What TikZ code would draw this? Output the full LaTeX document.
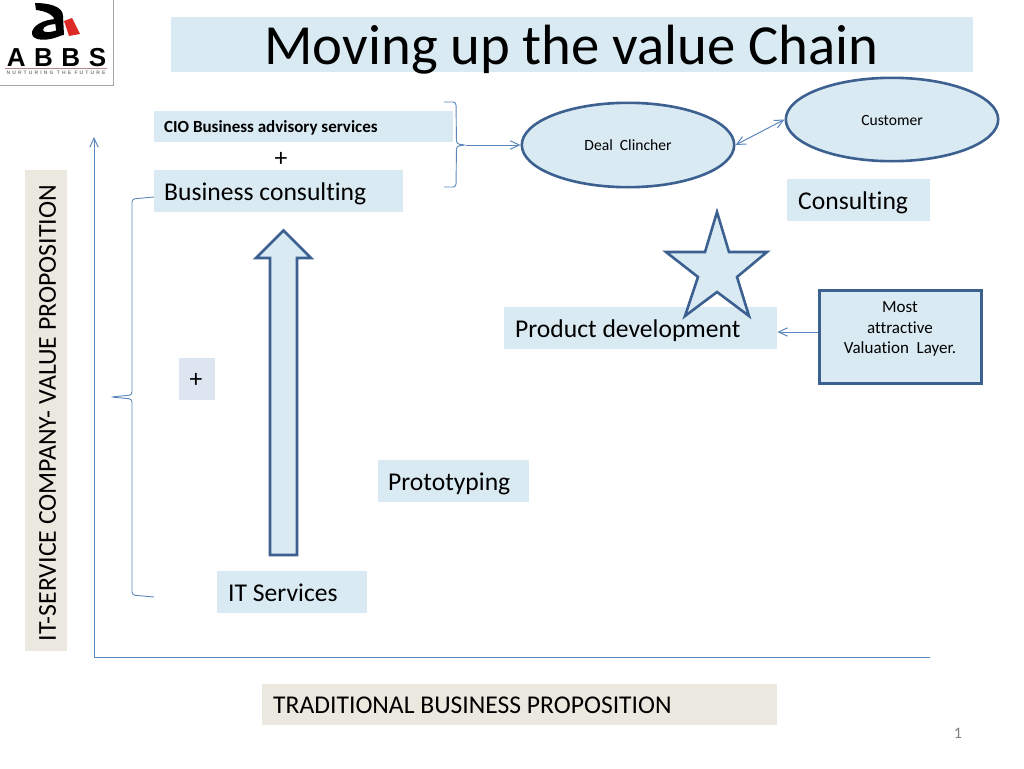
\documentclass[tikz,border=0pt]{standalone}
\usepackage{fontspec}
\setmainfont[Ligatures=NoCommon]{Carlito}
\newfontfamily\logofont{Liberation Sans}
\usetikzlibrary{shapes.geometric,arrows.meta}
\definecolor{lightblue}{HTML}{D9EAF3}
\definecolor{paleblue}{HTML}{DCE5F0}
\definecolor{beige}{HTML}{EBE9DF}
\definecolor{darkline}{HTML}{3C6090}
\definecolor{thinline}{HTML}{5B87BC}
\definecolor{logored}{HTML}{DD2A26}
\definecolor{logorule}{HTML}{B08A8A}
\tikzset{
  x=1pt,y=-1pt,
  biglabel/.style={inner sep=0pt,anchor=west,font=\fontsize{25.6}{30}\selectfont},
  plain box/.style={minimum height=42pt,inner sep=0pt,anchor=north west},
  oval/.style={ellipse,draw=darkline,line width=2.6pt,fill=lightblue,inner sep=0pt,font=\fontsize{15.6}{18}\selectfont},
  conn/.style={draw=thinline,line width=1pt},
  arr/.style={conn,-{Straight Barb[length=9pt,width=10pt,angle'=50]}},
  twoarr/.style={conn,{Straight Barb[length=9pt,width=10pt,angle'=50]}-{Straight Barb[length=9pt,width=10pt,angle'=50]}},
  brace/.style={draw=thinline,line width=0.9pt,rounded corners=3pt},
  thick shape/.style={draw=darkline,line width=2.6pt,fill=lightblue,line join=miter}
}
\begin{document}
\begin{tikzpicture}
\useasboundingbox (0,0) rectangle (1024,768);
\fill[white] (0,0) rectangle (1024,768);
% logo
\draw[gray!70,line width=0.6pt] (0,85.5) -- (113,85.5) -- (113,0);
\fill[black] (35,3) .. controls (48,3) and (63,6) .. (63,16) -- (64,35) -- (57,36) -- (55,22) .. controls (55,15) and (46,11) .. (36,10) -- cycle;
\fill[black] (58,19) .. controls (42,19) and (31,27) .. (32,34) .. controls (33,41) and (48,42) .. (62,35) -- (60,29) .. controls (51,33) and (43,33) .. (43,30) .. controls (43,26) and (50,24) .. (58,24) -- cycle;
\fill[logored] (64,21) -- (72,18) -- (80,34) -- (69,36) -- cycle;
\node[inner sep=0pt,font=\logofont\fontsize{26}{26}\bfseries\selectfont\addfontfeature{LetterSpace=33}] (logotext) at (56.5,57.5) {ABBS};
\fill[logorule] (5,68) rectangle (107,69.3);
\node[inner sep=0pt,text=gray,font=\logofont\fontsize{5}{6}\bfseries\selectfont\addfontfeature{LetterSpace=42}] (logotag) at (56,73) {NURTURING THE FUTURE};
% title
\node[fill=lightblue,minimum width=802pt,minimum height=55pt,inner sep=0pt,anchor=north west] (titlebox) at (171,17) {};
\node[inner sep=0pt,font=\fontsize{56.7}{64}\selectfont] (title) at (571.5,50) {Moving up the value Chain};
% boxes
\node[fill=lightblue,plain box,minimum width=299pt,minimum height=31pt] (cio) at (154,111) {};
\node[inner sep=0pt,anchor=west,font=\fontsize{17}{20}\bfseries\selectfont] (ciot) at (164,128) {CIO Business advisory services};
\node[inner sep=0pt,font=\fontsize{25.6}{26}\selectfont] (plusa) at (281,159) {+};
\node[fill=lightblue,plain box,minimum width=249pt] (bc) at (154,170) {};
\node[biglabel] (bct) at (164,193.5) {Business consulting};
\node[fill=lightblue,plain box,minimum width=143pt] (cons) at (787,179) {};
\node[biglabel] (const) at (798,202.5) {Consulting};
\node[fill=lightblue,plain box,minimum width=273pt] (pd) at (504,307) {};
\node[fill=paleblue,plain box,minimum width=36pt] (plusb) at (179,358) {};
\node[inner sep=0pt,font=\fontsize{25.6}{26}\selectfont] (plusbt) at (196,380) {+};
\node[fill=lightblue,plain box,minimum width=151pt] (proto) at (378,460) {};
\node[biglabel] (protot) at (388,484) {Prototyping};
\node[fill=lightblue,plain box,minimum width=150pt] (its) at (217,571) {};
\node[biglabel] (itst) at (228,593) {IT Services};
\node[fill=beige,plain box,minimum width=515pt,minimum height=41pt] (trad) at (262,684) {};
\node[biglabel] (tradt) at (273,705) {TRADITIONAL BUSINESS PROPOSITION};
\node[fill=beige,plain box,minimum width=42pt,minimum height=481pt] (ylab) at (25,170) {};
\node[inner sep=0pt,rotate=90,font=\fontsize{25.8}{30}\selectfont] (ylabt) at (47.5,413) {IT-SERVICE COMPANY- VALUE PROPOSITION};
% ovals
\node[oval,minimum width=212.4pt,minimum height=84.4pt] (deal) at (628,145) {Deal\ \ Clincher};
\node[oval,minimum width=212.4pt,minimum height=83.4pt] (cust) at (892,119.5) {};
\node[inner sep=0pt,font=\fontsize{15.6}{18}\selectfont] (custt) at (892,120) {Customer};
% star
\path[thick shape] (717,212) -- (729,252) -- (767,252) -- (737,277) -- (749,316) -- (717,292) -- (685,316) -- (698,277) -- (666,252) -- (705,252) -- cycle;
\node[biglabel] (pdt) at (515,330.5) {Product development};
% most attractive
\node[draw=darkline,line width=2.6pt,fill=lightblue,minimum width=162.4pt,minimum height=93.4pt,inner sep=0pt,anchor=north west] (most) at (818,289) {};
\node[inner sep=0pt,align=center,font=\fontsize{17}{20.3}\selectfont] (mostt) at (900,329) {Most\\attractive\\Valuation\ \ Layer.};
% big arrow
\path[thick shape] (270,555) -- (270,258) -- (256,258) -- (283.5,230.5) -- (311,258) -- (297,258) -- (297,555) -- cycle;
% axes
\coordinate (ytop) at (94,137);
\coordinate (origin) at (94,657);
\coordinate (xend) at (930,657);
\draw[arr] (origin) -- (ytop);
\draw[conn] (origin) -- (xend);
% braces
\coordinate (bl) at (154,197);
\coordinate (bb) at (154,597);
\coordinate (btip) at (111,397);
\draw[brace] (bl) -- (132,199) -- (132,395) -- (btip) -- (132,399) -- (132,595) -- (bb);
\coordinate (rt) at (444,102);
\coordinate (rb) at (444,187);
\coordinate (rtip) at (466,145);
\draw[brace] (rt) -- (456,102) -- (456.5,144) -- (rtip) -- (456.5,146) -- (456,187) -- (rb);
\draw[arr] (rtip) -- (deal.west);
\draw[twoarr] (deal.east) -- (cust.west);
\draw[arr] (most.west |- 0,332) -- (pd.east |- 0,332);
% page number
\node[inner sep=0pt,text=gray,font=\fontsize{16}{18}\selectfont] (pnum) at (958,733) {1};
\end{tikzpicture}
\end{document}
